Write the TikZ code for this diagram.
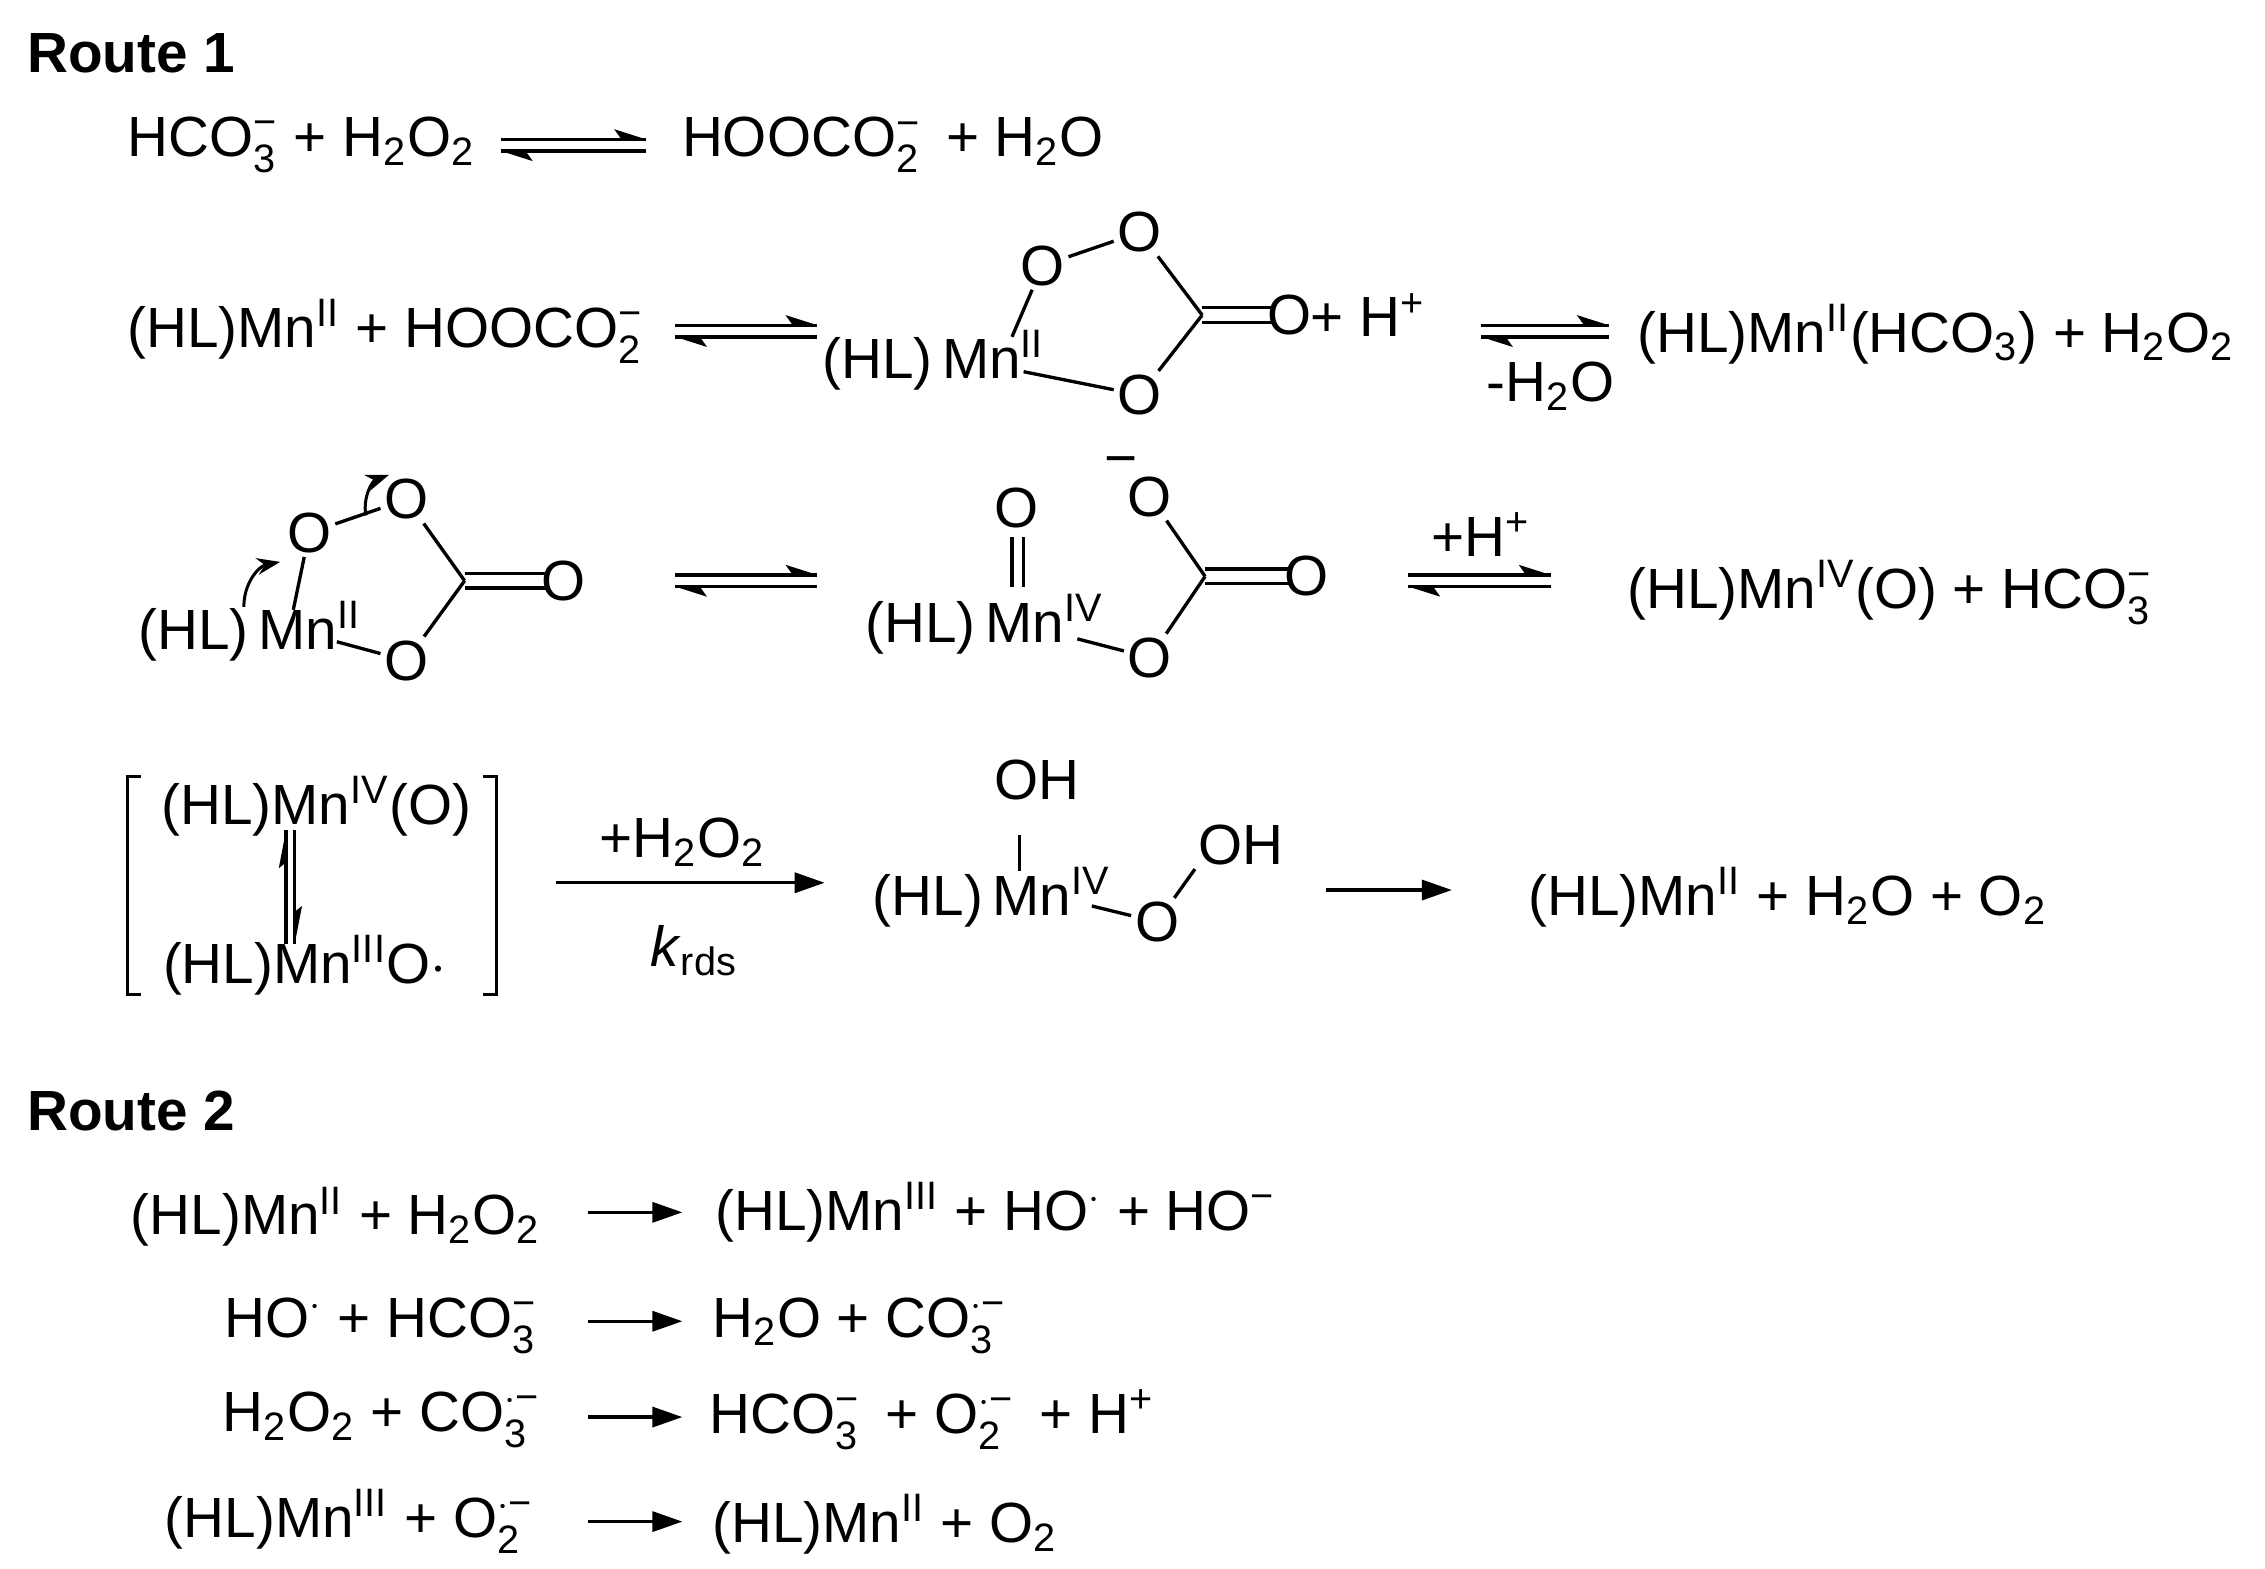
\documentclass[tikz,border=0pt]{standalone}
\usepackage{amsmath}
\usepackage{fontspec}
\setmainfont{Liberation Sans}
\usetikzlibrary{arrows.meta}
\newcommand\fs{\fontsize{17}{20}\selectfont}
\newcommand\zss[2]{\ensuremath{^{\text{#2}}_{\text{#1}}}}
\newcommand\zsu[1]{\textsuperscript{#1}}
\newcommand\zsb[1]{\textsubscript{#1}}
\newcommand\eqa[3]{%
 \draw[bond] (#1,#3-4)--(#2,#3-4); \fill (#2,#3-4)--(#2-22,#3-11)--(#2-17,#3-4)--cycle;
 \draw[bond] (#1,#3+4)--(#2,#3+4); \fill (#1,#3+4)--(#1+22,#3+11)--(#1+17,#3+4)--cycle;}
\begin{document}
\begin{tikzpicture}[x=0.4356pt,y=-0.4356pt,
 every node/.style={font=\fs, inner sep=1pt},
 bond/.style={line width=1pt},
 ar/.style={line width=1pt,-{Triangle[length=9pt,width=6pt]}}]
\useasboundingbox (0,0) rectangle (1560,1080);
\node[anchor=west,font=\fs\bfseries] (r1) at (16,37) {Route 1};
% row 1
\node[anchor=west] (a1) at (85,100) {HCO\zss{3}{−} + H\zsb{2}O\zsb{2}};
\eqa{345}{445}{100}
\node[anchor=west] (a2) at (467,100) {HOOCO\zss{2}{−}\, + H\zsb{2}O};
% row 2
\node[anchor=west] (b1) at (85,228) {(HL)Mn\zsu{II} + HOOCO\zss{2}{−}};
\eqa{465}{563}{228}
\node (bmn) at (643,248) {(HL)\,Mn\zsu{II}};
\node (bo1) at (718,183) {O};
\node (bo2) at (785,160) {O};
\coordinate (bc) at (828,217);
\node (bo4) at (888,217) {O};
\node (bo3) at (785,272) {O};
\draw[bond] (697,232)--(bo1); \draw[bond] (bo1)--(bo2); \draw[bond] (bo2)--(bc);
\draw[bond] (bc)--(bo3); \draw[bond] (705,256)--(bo3);
\draw[bond] (828,212)--(876,212); \draw[bond] (828,222)--(876,222);
\node[anchor=west] (bh) at (900,217) {+ H\zsu{+}};
\eqa{1020}{1108}{228}
\node (bw) at (1068,266) {-H\zsb{2}O};
\node[anchor=west] (b2) at (1125,230) {(HL)Mn\zsu{II}(HCO\zsb{3}) + H\zsb{2}O\zsb{2}};
% row 3
\node (cmn) at (172,435) {(HL)\,Mn\zsu{II}};
\node (co1) at (213,367) {O};
\node (co2) at (280,344) {O};
\coordinate (cc) at (320,400);
\node (co4) at (388,400) {O};
\node (co3) at (280,455) {O};
\draw[bond] (202,420)--(co1); \draw[bond] (co1)--(co2); \draw[bond] (co2)--(cc);
\draw[bond] (cc)--(co3); \draw[bond] (232,442)--(co3);
\draw[bond] (320,395)--(376,395); \draw[bond] (320,405)--(376,405);
\draw[line width=0.9pt,-{Stealth[length=7pt,width=5pt]}] (168,418) to[bend left=40] (193,387);
\draw[line width=0.9pt,-{Stealth[length=7pt,width=5pt]}] (252,355) to[bend left=40] (268,327);
\eqa{465}{563}{400}
\node (dmn) at (678,430) {(HL)\,Mn\zsu{IV}};
\node (do0) at (700,350) {O};
\draw[bond] (697,370)--(697,404); \draw[bond] (705,370)--(705,404);
\node (do1) at (792,342) {O};
\node (dm) at (772,322) {−};
\coordinate (dc) at (830,397);
\node (do4) at (900,397) {O};
\node (do3) at (792,453) {O};
\draw[bond] (do1)--(dc); \draw[bond] (dc)--(do3); \draw[bond] (742,440)--(do3);
\draw[bond] (830,392)--(888,392); \draw[bond] (830,402)--(888,402);
\eqa{970}{1068}{400}
\node (dh) at (1020,368) {+H\zsu{+}};
\node[anchor=west] (d2) at (1118,408) {(HL)Mn\zsu{IV}(O) + HCO\zss{3}{−}};
% row 4
\draw[bond] (97,535)--(88,535)--(88,685)--(97,685);
\draw[bond] (333,535)--(342,535)--(342,685)--(333,685);
\node (e1) at (218,555) {(HL)Mn\zsu{IV}(O)};
\node (e2) at (210,665) {(HL)Mn\zsu{III}O$\cdot$};
\draw[bond] (197,650)--(197,572); \fill (197,572)--(192,598)--(197,594)--cycle;
\draw[bond] (203,572)--(203,650); \fill (203,650)--(208,624)--(203,628)--cycle;
\draw[ar] (383,608)--(568,608);
\node (e3) at (470,580) {+H\zsb{2}O\zsb{2}};
\node (e4) at (478,655) {\textit{k}\zsb{rds}};
\node (fmn) at (683,618) {(HL)\,Mn\zsu{IV}};
\node (foh) at (714,537) {OH};
\draw[bond] (702,575)--(702,600);
\node (fo) at (797,635) {O};
\node (foh2) at (855,582) {OH};
\draw[bond] (752,624)--(fo); \draw[bond] (fo)--(foh2.south west);
\draw[ar] (913,613)--(1000,613);
\node[anchor=west] (f2) at (1050,618) {(HL)Mn\zsu{II} + H\zsb{2}O + O\zsb{2}};
% route 2
\node[anchor=west,font=\fs\bfseries] (r2) at (16,765) {Route 2};
\node[anchor=east] (g1) at (375,838) {(HL)Mn\zsu{II} + H\zsb{2}O\zsb{2}};
\draw[ar] (405,835)--(470,835);
\node[anchor=west] (g2) at (490,835) {(HL)Mn\zsu{III} + HO\zsu{$\cdot$} + HO\zsu{−}};
\node[anchor=east] (h1) at (373,913) {HO\zsu{$\cdot$} + HCO\zss{3}{−}};
\draw[ar] (405,910)--(470,910);
\node[anchor=west] (h2) at (488,913) {H\zsb{2}O + CO\zss{3}{$\cdot$−}};
\node[anchor=east] (i1) at (375,978) {H\zsb{2}O\zsb{2} + CO\zss{3}{$\cdot$−}};
\draw[ar] (405,976)--(470,976);
\node[anchor=west] (i2) at (486,978) {HCO\zss{3}{−}\, + O\zss{2}{$\cdot$−}\, + H\zsu{+}};
\node[anchor=east] (j1) at (370,1048) {(HL)Mn\zsu{III} + O\zss{2}{$\cdot$−}};
\draw[ar] (405,1048)--(470,1048);
\node[anchor=west] (j2) at (488,1050) {(HL)Mn\zsu{II} + O\zsb{2}};
\end{tikzpicture}
\end{document}
